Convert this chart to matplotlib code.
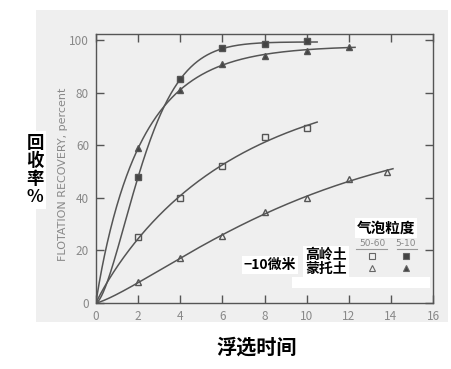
import numpy as np
import matplotlib
matplotlib.use("Agg")
import matplotlib.pyplot as plt
from matplotlib.patches import Rectangle

plt.rcParams['font.family'] = ['Noto Sans CJK SC', 'DejaVu Sans']

# ---- data ----
kao_big_t = [2, 4, 6, 8, 10]
kao_big_r = [25, 40, 52, 63, 66.5]
kao_small_t = [2, 4, 6, 8, 10]
kao_small_r = [48, 85, 97, 98.5, 99.5]
mon_big_t = [2, 4, 6, 8, 10, 12, 13.8]
mon_big_r = [8, 17, 25.5, 34.5, 40, 47, 50]
mon_small_t = [2, 4, 6, 8, 10, 12]
mon_small_r = [59, 81, 91, 94, 96, 97.5]
# where each drawn fitted curve stops
kao_big_end = 10.5
kao_small_end = 10.5
mon_big_end = 14.1
mon_small_end = 12.3

xticks = [0, 2, 4, 6, 8, 10, 12, 14, 16]
yticks = [0, 20, 40, 60, 80, 100]


def fit_curve(t, r):
    """Least-squares fit of R = Rinf * (1 - exp(-(k t)^n)) through the origin."""
    t = np.asarray(t, float); r = np.asarray(r, float)
    best = None
    for n in np.linspace(0.6, 2.2, 81):
        for k in np.linspace(0.01, 1.0, 200):
            g = 1 - np.exp(-(k * t) ** n)
            rinf = (g @ r) / (g @ g)
            err = np.sum((rinf * g - r) ** 2)
            if best is None or err < best[0]:
                best = (err, rinf, k, n)
    _, rinf, k, n = best
    return lambda x: rinf * (1 - np.exp(-(k * x) ** n))


fig = plt.figure(figsize=(4.51, 3.69), dpi=100)
fig.patch.set_facecolor('white')
W, H = 451, 369
bg = Rectangle((36 / W, 1 - 322 / H), (448 - 36) / W, (322 - 10) / H,
               transform=fig.transFigure, facecolor='#efefef', edgecolor='none', zorder=-5)
fig.add_artist(bg)

ax = fig.add_axes([96 / W, 1 - 303 / H, (433 - 96) / W, (303 - 34) / H])
ax.set_zorder(1)
ax.set_facecolor('#efefef')
ax.set_xlim(0, 16)
ax.set_ylim(0, 102.3)

lc = '#555555'
for sp in ax.spines.values():
    sp.set_color(lc)
    sp.set_linewidth(1.0)
ax.set_xticks(xticks)
ax.set_yticks(yticks)
ax.tick_params(direction='in', length=6, width=1, color=lc, labelcolor='#888888',
               labelsize=8.5, top=True, right=True, pad=5)

series = [
    (kao_big_t, kao_big_r, kao_big_end, 's', 'none'),
    (kao_small_t, kao_small_r, kao_small_end, 's', '#444444'),
    (mon_big_t, mon_big_r, mon_big_end, '^', 'none'),
    (mon_small_t, mon_small_r, mon_small_end, '^', '#444444'),
]
for t, r, end, mk, fc in series:
    f = fit_curve(t, r)
    xx = np.linspace(0, end, 400)
    ax.plot(xx, f(xx), color='#555555', lw=1.1, zorder=2)
    ax.plot(t, r, linestyle='none', marker=mk, markersize=4.8, markerfacecolor=fc,
            markeredgecolor='#555555', markeredgewidth=1.0, zorder=3)

# y axis label (English)
fig.text(63 / W, 1 - 174 / H, 'FLOTATION RECOVERY, percent', rotation=90, ha='center',
         va='center', fontsize=8, color='#888888', family=['DejaVu Sans'], zorder=5)

# Chinese labels
fig.text(35 / W, 1 - 170 / H, '回\n收\n率\n%', ha='center', va='center', fontsize=12.5,
         fontweight='bold', linespacing=1.0, zorder=5,
         bbox=dict(facecolor='white', edgecolor='none', pad=2))
fig.text(257 / W, 1 - 347 / H, '浮选时间', ha='center', va='center', fontsize=14.5,
         fontweight='bold', zorder=5)

# legend-like annotation block
fig.add_artist(Rectangle((292 / W, 1 - 288 / H), (430 - 292) / W, 11 / H,
                         transform=fig.transFigure, facecolor='white', edgecolor='none', zorder=4))
fig.text(386 / W, 1 - 228 / H, '气泡粒度', ha='center', va='center', fontsize=10.5,
         fontweight='bold', zorder=5, bbox=dict(facecolor='white', edgecolor='none', pad=1.5))
fig.text(372 / W, 1 - 244 / H, '50-60', ha='center', va='center', fontsize=6.5,
         color='#888888', family=['DejaVu Sans'], zorder=5)
fig.text(406 / W, 1 - 244 / H, '5-10', ha='center', va='center', fontsize=6.5,
         color='#888888', family=['DejaVu Sans'], zorder=5)
fig.add_artist(plt.Line2D([356 / W, 387 / W], [1 - 249 / H] * 2, color='#999999', lw=0.8,
                          transform=fig.transFigure, zorder=5))
fig.add_artist(plt.Line2D([397 / W, 417 / W], [1 - 249 / H] * 2, color='#999999', lw=0.8,
                          transform=fig.transFigure, zorder=5))
fig.text(326 / W, 1 - 262 / H, '高岭土\n蒙托土', ha='center', va='center', fontsize=10,
         fontweight='bold', linespacing=1.0, zorder=5,
         bbox=dict(facecolor='white', edgecolor='none', pad=1.5))
fig.text(270 / W, 1 - 265 / H, '−10微米', ha='center', va='center', fontsize=10,
         fontweight='bold', zorder=5, bbox=dict(facecolor='white', edgecolor='none', pad=1.5))
for (px, py, mk, fc) in [(372, 256, 's', 'none'), (406, 256, 's', '#444444'),
                         (372, 268, '^', 'none'), (406, 268, '^', '#444444')]:
    fig.add_artist(plt.Line2D([px / W], [1 - py / H], marker=mk, markersize=4,
                              markerfacecolor=fc, markeredgecolor='#666666',
                              markeredgewidth=0.8, linestyle='none',
                              transform=fig.transFigure, zorder=5))

fig.savefig('out.png', dpi=100)
